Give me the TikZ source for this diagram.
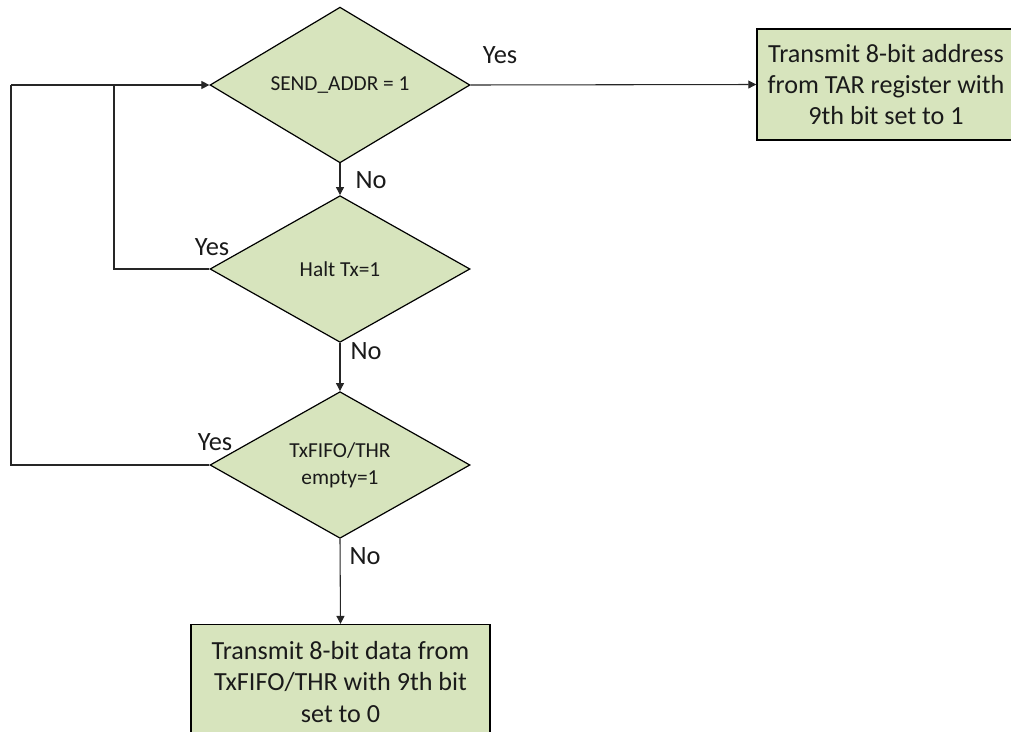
\documentclass[tikz,border=0pt]{standalone}
\usepackage{fontspec}
\setmainfont{Carlito}
\usetikzlibrary{shapes.geometric,arrows.meta}
\definecolor{leaf}{HTML}{D7E4BD}
\definecolor{ink}{HTML}{1A1A1A}
\begin{document}
\begin{tikzpicture}[x=0.75pt,y=-0.75pt,
  decision/.style={diamond, draw=black, line width=0.9pt, fill=leaf, text=ink,
    minimum width=195pt, minimum height=110pt, inner sep=0pt, align=center,
    font=\fontsize{16}{20}\selectfont},
  process/.style={rectangle, draw=black, line width=1.1pt, fill=leaf, text=ink,
    align=center, inner sep=0pt, font=\fontsize{19.6}{23.3}\selectfont},
  flow/.style={draw=black!85, line width=0.8pt},
  arr/.style={flow, -{Triangle[length=6pt,width=6pt]}},
  lbl/.style={font=\fontsize{19.8}{22}\selectfont, text=ink, inner sep=0pt}]
\useasboundingbox (0,0) rectangle (1011,732);

% decisions
\node[decision] (d1) at (340,85) {SEND\_ADDR = 1};
\node[decision] (d2) at (340,269) {Halt Tx=1};
\node[decision] (d3) at (340,465) {TxFIFO/THR\\empty=1};

% actions
\node[process, minimum width=193.5pt, minimum height=83pt] (tar) at (886,84.5)
  {Transmit 8-bit address\\from TAR register with\\9th bit set to 1};
\node[process, minimum width=224pt, minimum height=86pt] (data) at (340.5,682)
  {Transmit 8-bit data from\\TxFIFO/THR with 9th bit\\set to 0};

% loop-back points
\coordinate (outer) at (11,85);
\coordinate (inner) at (114,85);

% connectors
\draw[arr] (outer) -- (d1.west);
\draw[arr] (d1.east) -- (tar.west);
\draw[arr] (d1.south) -- (d2.north);
\draw[arr] (d2.south) -- (d3.north);
\draw[arr] (d3.south) -- (data.north);
\draw[flow] (d2.west) -| (inner);
\draw[flow] (d3.west) -| (outer);

% branch labels
\node[lbl] (y1) at (500,55) {Yes};
\node[lbl] (n1) at (371,180) {No};
\node[lbl] (y2) at (212,247) {Yes};
\node[lbl] (n2) at (366,351) {No};
\node[lbl] (y3) at (215,442) {Yes};
\node[lbl] (n3) at (365,556) {No};
\end{tikzpicture}
\end{document}
